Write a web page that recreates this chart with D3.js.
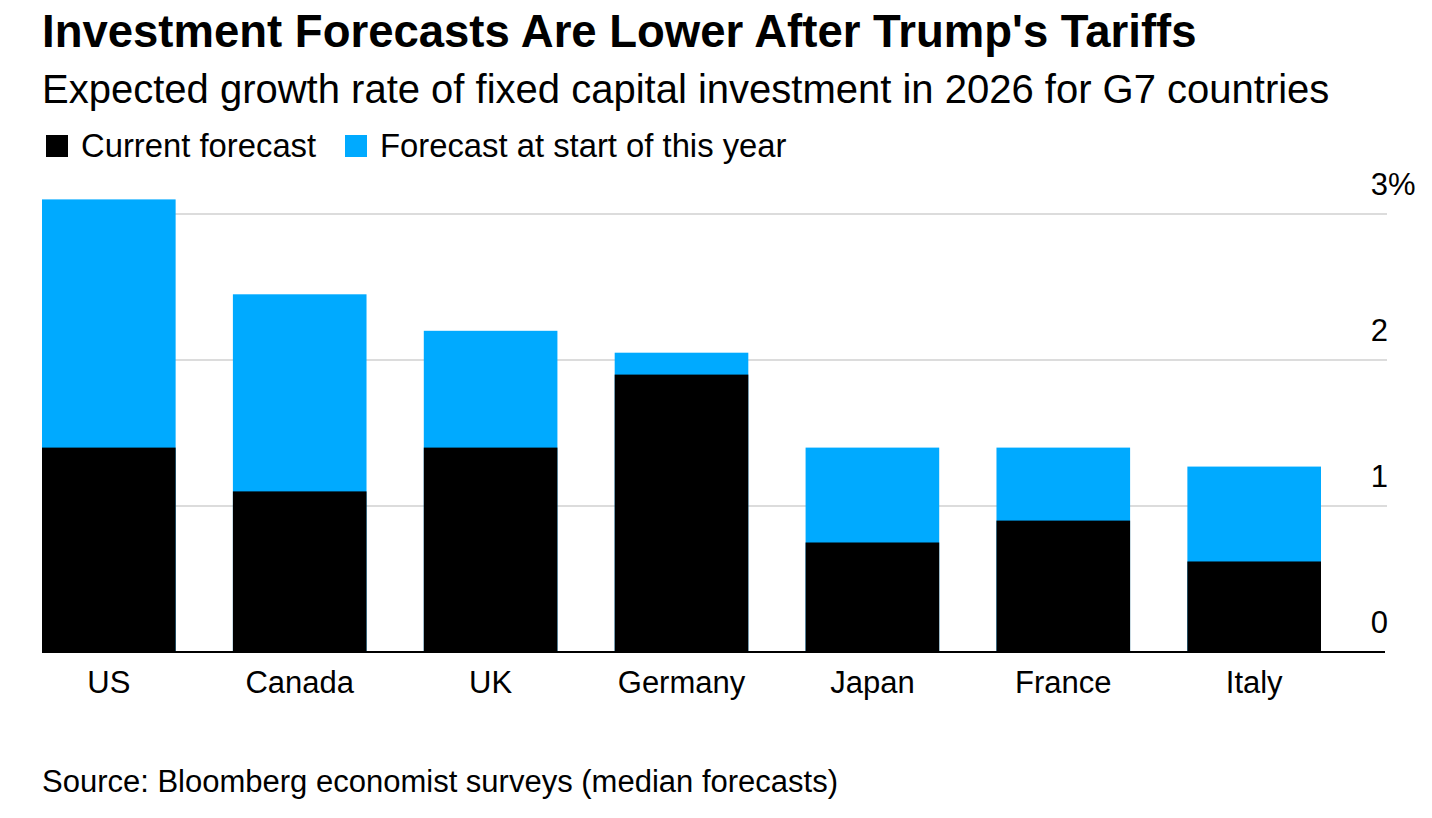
<!DOCTYPE html>
<html>
<head>
<meta charset="utf-8">
<script src="https://cdn.jsdelivr.net/npm/d3@7"></script>
<style>
  html, body { margin: 0; padding: 0; background: #fff; }
  svg { display: block; font-family: "Liberation Sans", Arial, Helvetica, sans-serif; }
</style>
</head>
<body>
<svg id="chart" width="1432" height="818"></svg>
<script>
// ---- data ----
const countries = ["US", "Canada", "UK", "Germany", "Japan", "France", "Italy"];
const currentForecast = [1.4, 1.1, 1.4, 1.9, 0.75, 0.9, 0.62];
const startOfYearForecast = [3.1, 2.45, 2.2, 2.05, 1.4, 1.4, 1.27];
const yTicks = [0, 1, 2, 3];
const seriesNames = ["Current forecast", "Forecast at start of this year"];
const seriesColors = ["#000000", "#00aaff"];

const title = "Investment Forecasts Are Lower After Trump's Tariffs";
const subtitle = "Expected growth rate of fixed capital investment in 2026 for G7 countries";
const source = "Source: Bloomberg economist surveys (median forecasts)";

// ---- layout ----
const svg = d3.select("#chart");
const plotLeft = 42, plotRight = 1387;
const x = d3.scaleBand().domain(countries).range([42, 1321]).paddingInner(0.3).paddingOuter(0);
const y = d3.scaleLinear().domain([0, 3]).range([652, 214]);

// Titles
svg.append("text").attr("x", 42).attr("y", 47)
  .attr("font-size", 45.5).attr("font-weight", "bold").attr("fill", "#000").text(title);
svg.append("text").attr("x", 42).attr("y", 103)
  .attr("font-size", 40).attr("fill", "#000").text(subtitle);

// Legend
const legendX = [46, 345];
seriesNames.forEach((name, i) => {
  svg.append("rect").attr("x", legendX[i]).attr("y", 135).attr("width", 22).attr("height", 22)
    .attr("fill", seriesColors[i]);
  svg.append("text").attr("x", legendX[i] + 35).attr("y", 157)
    .attr("font-size", 32.8).attr("fill", "#000").text(name);
});

// Gridlines
const grid = svg.append("g");
grid.selectAll("line").data(yTicks.filter(d => d !== 0)).join("line")
  .attr("x1", plotLeft).attr("x2", plotRight)
  .attr("y1", d => y(d)).attr("y2", d => y(d))
  .attr("stroke", "#dcdcdc").attr("stroke-width", 2);

// Y tick labels (right side, above gridlines)
const yLab = svg.append("g");
yTicks.forEach(t => {
  yLab.append("text").attr("x", 1388).attr("y", y(t) - 19)
    .attr("text-anchor", "end").attr("font-size", 31).attr("fill", "#000").text(t);
  if (t === d3.max(yTicks)) {
    yLab.append("text").attr("x", 1388).attr("y", y(t) - 19)
      .attr("text-anchor", "start").attr("font-size", 31).attr("fill", "#000").text("%");
  }
});

// Bars: start-of-year (behind) then current (front)
const bars = svg.append("g");
bars.selectAll("rect.start").data(countries).join("rect").attr("class", "start")
  .attr("x", d => x(d)).attr("width", x.bandwidth())
  .attr("y", (d, i) => y(startOfYearForecast[i]))
  .attr("height", (d, i) => y(0) - y(startOfYearForecast[i]))
  .attr("fill", seriesColors[1]);
bars.selectAll("rect.cur").data(countries).join("rect").attr("class", "cur")
  .attr("x", d => x(d)).attr("width", x.bandwidth())
  .attr("y", (d, i) => y(currentForecast[i]))
  .attr("height", (d, i) => y(0) - y(currentForecast[i]))
  .attr("fill", seriesColors[0]);

// Baseline
svg.append("line").attr("x1", plotLeft).attr("x2", 1385)
  .attr("y1", y(0)).attr("y2", y(0)).attr("stroke", "#000").attr("stroke-width", 2);

// X axis labels
const xAxis = d3.axisBottom(x).tickSize(0).tickPadding(0);
const xg = svg.append("g").attr("transform", `translate(0, ${y(0)})`).call(xAxis);
xg.select(".domain").remove();
xg.selectAll("text").attr("font-size", 31).attr("fill", "#000")
  .attr("font-family", "Liberation Sans, Arial, sans-serif")
  .attr("dy", null).attr("y", 41);

// Source
svg.append("text").attr("x", 42).attr("y", 792)
  .attr("font-size", 31).attr("fill", "#000").text(source);
</script>
</body>
</html>
